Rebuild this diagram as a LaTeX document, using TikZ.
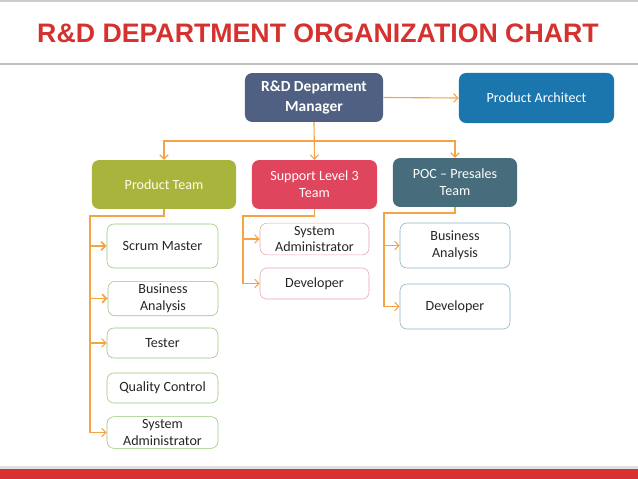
\documentclass[tikz,border=0pt]{standalone}
\usepackage{fontspec}
\setmainfont{Carlito}
\newfontfamily\headfont{Liberation Sans}
\usetikzlibrary{arrows.meta,positioning}
\definecolor{lnk}{HTML}{F4A444}
\definecolor{mgr}{HTML}{4F6082}
\definecolor{arch}{HTML}{1B76AE}
\definecolor{prod}{HTML}{A8B43C}
\definecolor{supp}{HTML}{E0455E}
\definecolor{poc}{HTML}{476C7B}
\definecolor{grn}{HTML}{96C67A}
\definecolor{pnk}{HTML}{E9A4AE}
\definecolor{tea}{HTML}{8BB0BE}
\definecolor{ttl}{HTML}{D5312F}
\definecolor{bar}{HTML}{D93131}
\tikzset{
  team/.style={rounded corners=5pt,align=center,inner sep=3pt,text=white,font=\fontsize{10}{12}\selectfont},
  role/.style={draw,thin,rounded corners=5pt,fill=white,align=center,inner sep=2pt,text=black!85,
    minimum width=2.75cm,font=\fontsize{10}{12}\selectfont},
  grole/.style={role,draw=grn},
  prole/.style={role,draw=pnk},
  trole/.style={role,draw=tea},
  ar/.style={-{Straight Barb[length=3pt,width=6pt]},line width=0.8pt,draw=lnk},
}
\begin{document}
\begin{tikzpicture}[x=0.025cm,y=-0.025cm]
  \useasboundingbox (0,0) rectangle (638,479);
  \draw[black!20,line width=1pt] (0,1) -- (638,1);
  \draw[black!25,line width=1.5pt] (0,64) -- (638,64);
  \fill[black!12] (0,466) rectangle (638,469);
  \fill[bar] (0,469) rectangle (638,479);
  \node[text=ttl,font=\headfont\bfseries\fontsize{19}{22}\selectfont] (title) at (318,33) {R\&D DEPARTMENT ORGANIZATION CHART};

  \node[team,fill=mgr,minimum width=3.45cm,minimum height=1.22cm,font=\bfseries\fontsize{11}{14}\selectfont] (mgr) at (314,97.5) {R\&D Deparment\\Manager};
  \node[team,fill=arch,minimum width=3.875cm,minimum height=1.25cm] (arch) at (536.5,98) {Product Architect};
  \node[team,fill=prod,text=yellow!8,minimum width=3.6cm,minimum height=1.22cm] (pt) at (164,184.5) {Product Team};
  \node[team,fill=supp,minimum width=3.125cm,minimum height=1.22cm] (sup) at (314.5,184.5) {Support Level 3\\Team};
  \node[team,fill=poc,minimum width=3.1cm,minimum height=1.22cm] (poc) at (455,182.5) {POC -- Presales\\Team};

  \node[grole,minimum width=2.775cm,minimum height=1.1cm] (sm) at (162.5,246) {Scrum Master};
  \node[grole,minimum height=0.775cm] (ba) at (163,298.5) {Business\\Analysis};
  \node[grole,minimum width=2.775cm,minimum height=0.75cm] (te) at (162.5,343) {Tester};
  \node[grole,minimum width=2.775cm,minimum height=0.75cm] (qc) at (162.5,388) {Quality Control};
  \node[grole,minimum width=2.775cm,minimum height=0.775cm] (sa) at (162.5,432.5) {System\\Administrator};

  \node[prole,minimum width=2.725cm,minimum height=0.75cm] (ssa) at (314.5,239) {System\\Administrator};
  \node[prole,minimum width=2.725cm,minimum height=0.775cm] (sdev) at (314.5,283.5) {Developer};

  \node[trole,minimum height=1.125cm] (pba) at (455,245.5) {Business\\Analysis};
  \node[trole,minimum height=1.125cm] (pdev) at (455,306.5) {Developer};

  \coordinate (bus) at (314,141);
  \coordinate (ptj) at (90,216);
  \coordinate (supj) at (243,216);
  \coordinate (pocj) at (384,213);

  \draw[ar] (mgr.east) -- (arch.west);
  \draw[ar] (mgr.south) -- (sup.north);
  \draw[ar] (bus) -| (pt.north);
  \draw[ar] (bus) -| (poc.north);

  \draw[ar,line width=1.3pt] (pt.south) |- (ptj) |- (sm.west);
  \draw[ar,line width=1.3pt] (ptj) |- (ba.west);
  \draw[ar] (ptj) |- (te.west);
  \draw[ar] (ptj) |- (sa.west);

  \draw[ar] (sup.south) |- (supj) |- (ssa.west);
  \draw[ar] (supj) |- (sdev.west);

  \draw[ar] (poc.south) |- (pocj) |- (pba.west);
  \draw[ar] (pocj) |- (pdev.west);
\end{tikzpicture}
\end{document}
